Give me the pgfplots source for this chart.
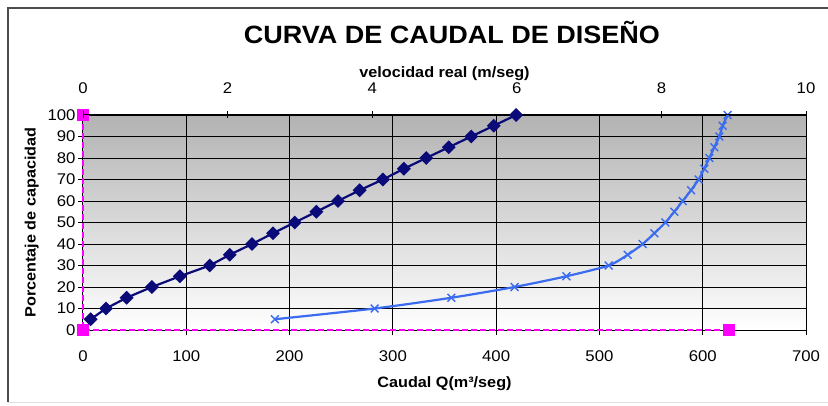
\documentclass[border=0pt]{standalone}
\usepackage{pgfplots}
\pgfplotsset{compat=1.18}
\usepackage{fontspec}
\setmainfont{Liberation Sans}[FakeStretch=1.08]
\definecolor{navyser}{HTML}{0A0A78}
\definecolor{lightser}{HTML}{3A6BF0}
\definecolor{magser}{HTML}{FF00FF}
\begin{document}
\begin{tikzpicture}[x=1pt,y=1pt]
\useasboundingbox (0,0) rectangle (828,405);
% chart frame
\draw[black!12, line width=1pt] (8,3) -- (828,3);
\draw[black!70, line width=1.3pt] (8,3) -- (8,397) -- (828,397);
% title
\node[font=\fontsize{25}{30}\selectfont\bfseries] at (452,373) {CURVA DE CAUDAL DE DISEÑO};
\begin{axis}[
  at={(83pt,75pt)}, anchor=south west,
  width=723pt, height=215pt, scale only axis,
  xmin=0, xmax=700, ymin=0, ymax=100,
  xtick={0,100,...,700}, ytick={0,10,...,100},
  axis x line*=bottom, axis y line*=left,
  grid=major, major grid style={black, line width=1pt},
  axis line style={black, line width=1pt},
  tick style={black, line width=0.8pt},
  tick align=outside, major tick length=5pt,
  ticklabel style={font=\fontsize{15.5}{18}\selectfont},
  /pgf/number format/assume math mode=true,
  xticklabel style={yshift=-12pt},
  yticklabel style={xshift=1pt},
  xlabel={Caudal Q(m³/seg)},
  ylabel={Porcentaje de capacidad},
  label style={font=\fontsize{15}{18}\selectfont\bfseries},
  xlabel style={yshift=-8pt},
  ylabel style={yshift=2pt},
  axis background/.style={top color=black!30, bottom color=white},
  clip=false,
]
\addplot[magser, line width=2pt, dash pattern=on 6pt off 3pt, mark=square*, mark size=5.2pt, mark options={solid}]
  coordinates {(0,100) (0,0) (625.5,0)};
\addplot[lightser, line width=2.2pt, smooth, tension=0.4, mark=x, mark size=5.5pt, mark options={solid, line width=1.4pt}]
  coordinates {
  (185.7,5) (282.4,10) (356.6,15) (417.8,20) (468.1,25) (509.0,30)
  (527.4,35) (541.9,40) (553.2,45) (563.8,50) (572.5,55) (580.6,60)
  (588.7,65) (596.0,70) (601.5,75) (606.4,80) (611.2,85) (616.1,90)
  (619.3,95) (624.1,100)};
\end{axis}
\begin{axis}[
  at={(83pt,75pt)}, anchor=south west,
  width=723pt, height=215pt, scale only axis,
  xmin=0, xmax=10, ymin=0, ymax=100,
  xtick={0,2,...,10},
  axis x line*=top, axis y line=none,
  axis line style={black, line width=1pt},
  tick style={black, line width=0.8pt},
  tick align=center, major tick length=7pt,
  ticklabel style={font=\fontsize{15.5}{18}\selectfont},
  /pgf/number format/assume math mode=true,
  xticklabel style={yshift=14pt},
  xlabel={velocidad real (m/seg)},
  label style={font=\fontsize{15}{18}\selectfont\bfseries},
  xlabel style={yshift=-5pt},
  clip=false,
]
\addplot[navyser, line width=2.2pt, mark=square*, mark size=3.8pt, mark options={rotate=45, solid}]
  coordinates {
  (0.106,5) (0.318,10) (0.603,15) (0.953,20) (1.340,25) (1.754,30)
  (2.030,35) (2.338,40) (2.628,45) (2.928,50) (3.228,55) (3.526,60)
  (3.826,65) (4.148,70) (4.438,75) (4.747,80) (5.059,85) (5.369,90)
  (5.681,95) (5.990,100)};
\end{axis}
\end{tikzpicture}
\end{document}
